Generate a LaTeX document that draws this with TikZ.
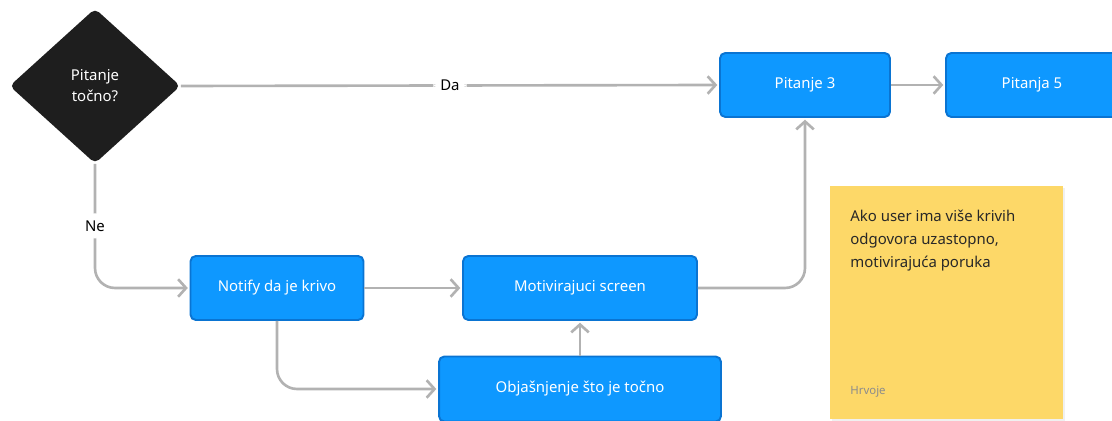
\documentclass[tikz,border=0pt]{standalone}
\usepackage{fontspec}
\setmainfont{Noto Sans}
\usetikzlibrary{shapes.geometric}
\usetikzlibrary{arrows.meta}
\usetikzlibrary{positioning}

\definecolor{boxblue}{RGB}{14,152,255}
\definecolor{boxedge}{RGB}{10,116,210}
\definecolor{linegray}{RGB}{178,178,178}
\definecolor{darkdia}{RGB}{30,30,30}
\definecolor{stickyyellow}{RGB}{253,216,104}
\definecolor{stickytext}{RGB}{40,40,40}

\tikzset{
    stepbox/.style={draw=boxedge, line width=1.1pt, fill=boxblue, rounded corners=3pt,
        text=white, font=\fontsize{8.5}{10}\selectfont, minimum height=1.28cm, inner sep=0pt},
    flow/.style={draw=linegray, line width=1.5pt, rounded corners=0.4cm,
        -{Straight Barb[length=4.5pt, width=10pt]}, shorten >=1pt},
    flowlabel/.style={fill=white, font=\fontsize{8.5}{10}\selectfont, inner sep=4pt}
}

\begin{document}
\begin{tikzpicture}[x=0.02cm, y=-0.02cm]
    \useasboundingbox (0,0) rectangle (1112,421);

    % Decision
    \node[diamond, fill=darkdia, rounded corners=3pt, minimum width=3.42cm, minimum height=3.1cm,
        inner sep=0pt, text=white, align=center, font=\fontsize{8.5}{12}\selectfont]
        (pitanje) at (95,86) {Pitanje\\točno?};

    % Steps
    \node[stepbox, minimum width=3.4cm] (p3) at (805,85) {Pitanje 3};
    \node[stepbox, minimum width=3.44cm] (p5) at (1032,85) {Pitanja 5};
    \node[stepbox, minimum width=3.46cm] (notify) at (277,288) {Notify da je krivo};
    \node[stepbox, minimum width=4.68cm] (motiv) at (580,288) {Motivirajuci screen};
    \node[stepbox, minimum width=5.64cm, minimum height=1.3cm] (objas) at (580,389) {Objašnjenje što je točno};

    % Sticky note
    \fill[black!6] (832,188) rectangle (1065,421);
    \fill[stickyyellow] (830,186) rectangle (1063,419);
    \node[anchor=north west, align=left, text=stickytext, font=\fontsize{8.5}{13}\selectfont, inner sep=0pt]
        (note) at (850,210) {Ako user ima više krivih\\odgovora uzastopno,\\motivirajuća poruka};
    \node[anchor=west, text=black!45, font=\fontsize{6.5}{8}\selectfont, inner sep=0pt]
        (autor) at (850,392) {Hrvoje};

    % Connectors
    \draw[flow] (pitanje.east) -- node[flowlabel] (da) {Da} (p3.west);
    \draw[flow] (p3) -- (p5);
    \draw[flow] (pitanje.south) |- node[flowlabel, pos=0.25] (ne) {Ne} (notify.west);
    \draw[flow] (notify) -- (motiv);
    \draw[flow] (motiv.east) -| (p3.south);
    \draw[flow] (notify.south) |- (objas.west);
    \draw[flow] (objas) -- (motiv);
\end{tikzpicture}
\end{document}
